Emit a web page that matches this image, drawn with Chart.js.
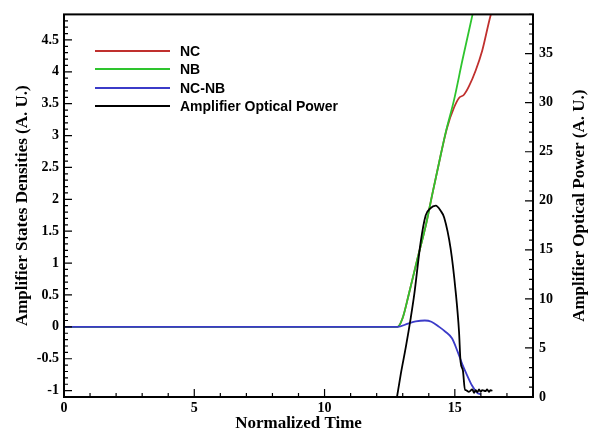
<!DOCTYPE html>
<html>
<head>
<meta charset="utf-8">
<script src="https://cdn.jsdelivr.net/npm/chart.js@4.4.0/dist/chart.umd.min.js"></script>
<style>
  html, body { margin: 0; padding: 0; background: #fff; }
  #wrap { position: relative; width: 597px; height: 436px; }
  #legend {
    position: absolute; left: 95px; top: 42px;
    font: bold 14px "Liberation Sans", Arial, sans-serif; color: #000;
  }
  .row { display: flex; align-items: center; height: 18.3px; }
  .row .swatch { width: 75px; height: 0; border-top: 2px solid; margin-right: 10px; }
</style>
</head>
<body>
<div id="wrap">
  <canvas id="chart" width="597" height="436"></canvas>
  <div id="legend"></div>
</div>
<script>
// normalized time / value pairs
const ncTime = [0, 12.8, 12.99, 13.25, 13.56, 13.88, 14.14, 14.45, 14.7, 14.97, 15.16, 15.35, 15.54, 15.8, 16.05, 16.37, 16.7];
const ncVals = [0, 0, 0.13, 0.54, 1.06, 1.58, 2.09, 2.68, 3.12, 3.44, 3.59, 3.64, 3.77, 4.02, 4.33, 4.88, 5.3];

const nbTime = [0, 12.8, 12.99, 13.25, 13.56, 13.88, 14.14, 14.45, 14.65, 14.97, 15.29, 15.67, 15.9];
const nbVals = [0, 0, 0.13, 0.54, 1.06, 1.58, 2.09, 2.68, 3.05, 3.56, 4.18, 4.88, 5.3];

const diffTime = [0, 12.8, 13.2, 13.5, 13.85, 14.1, 14.4, 14.65, 14.89, 15.1, 15.3, 15.45, 15.66, 15.85, 16.0];
const diffVals = [0, 0, 0.05, 0.085, 0.1, 0.08, 0.0, -0.08, -0.18, -0.38, -0.6, -0.74, -0.92, -1.03, -1.06];

const powTime = [12.78, 12.93, 13.12, 13.31, 13.44, 13.69, 13.88, 14.05, 14.27, 14.45, 14.59, 14.84, 15.03, 15.16, 15.22, 15.31, 15.39,
  15.42, 15.54, 15.67, 15.74, 15.8, 15.86, 15.93, 15.99, 16.05, 16.18, 16.24, 16.31, 16.37, 16.44];
const powVals = [0, 2.4, 5.1, 8.1, 10.4, 15.8, 18.5, 19.2, 19.5, 19.0, 18.3, 15.1, 10.8, 6.7, 3.6, 2.7, 0.7,
  0.7, 0.53, 0.77, 0.43, 0.7, 0.5, 0.77, 0.53, 0.7, 0.6, 0.77, 0.53, 0.7, 0.63];

const xTicks = [0, 5, 10, 15];
const leftTicks = [-1, -0.5, 0, 0.5, 1, 1.5, 2, 2.5, 3, 3.5, 4, 4.5];
const rightTicks = [0, 5, 10, 15, 20, 25, 30, 35];
const rightTitle = "Amplifier Optical Power (A. U.)";

const series = [
  { label: "NC", color: "#c0302e" },
  { label: "NB", color: "#2ec42e" },
  { label: "NC-NB", color: "#3b3bc8" },
  { label: "Amplifier Optical Power", color: "#000000" },
];

const pts = (t, v) => t.map((x, i) => ({ x: x, y: v[i] }));

const tickFont = { family: "Liberation Serif", weight: "bold", size: 14 };
const titleFont = { family: "Liberation Serif", weight: "bold", size: 17 };

// inward tick marks, frame, and the right title (reads bottom to top)
const framePlugin = {
  id: "frame",
  afterDatasetsDraw(chart) {
    const { ctx, chartArea: a, scales } = chart;
    ctx.save();
    ctx.strokeStyle = "#000";
    ctx.lineWidth = 1.2;
    ctx.beginPath();
    for (let i = 0; i <= 18; i++) {
      const px = scales.x.getPixelForValue(i);
      const len = i % 5 === 0 ? 8 : 4;
      ctx.moveTo(px, a.bottom);
      ctx.lineTo(px, a.bottom - len);
    }
    for (let i = -10; i <= 48; i++) {
      const py = scales.y.getPixelForValue(i / 10);
      const len = i % 5 === 0 ? 8 : 4;
      ctx.moveTo(a.left, py);
      ctx.lineTo(a.left + len, py);
    }
    for (let i = 0; i <= 39; i++) {
      const py = scales.y2.getPixelForValue(i);
      const len = i % 5 === 0 ? 8 : 4;
      ctx.moveTo(a.right, py);
      ctx.lineTo(a.right - len, py);
    }
    ctx.stroke();
    ctx.lineWidth = 2;
    ctx.strokeRect(a.left, a.top, a.right - a.left, a.bottom - a.top);

    ctx.translate(580, (a.top + a.bottom) / 2);
    ctx.rotate(-Math.PI / 2);
    ctx.fillStyle = "#000";
    ctx.font = "bold 17px 'Liberation Serif'";
    ctx.textAlign = "center";
    ctx.textBaseline = "middle";
    ctx.fillText(rightTitle, 0, 0);
    ctx.restore();
  },
};

const lineDs = (s, data, axis) => ({
  label: s.label,
  data: data,
  yAxisID: axis,
  borderColor: s.color,
  borderWidth: 1.8,
  pointRadius: 0,
  cubicInterpolationMode: "monotone",
  fill: false,
});

new Chart(document.getElementById("chart"), {
  type: "line",
  data: {
    // first dataset is drawn on top
    datasets: [
      lineDs(series[3], pts(powTime, powVals), "y2"),
      lineDs(series[2], pts(diffTime, diffVals), "y"),
      lineDs(series[1], pts(nbTime, nbVals), "y"),
      lineDs(series[0], pts(ncTime, ncVals), "y"),
    ],
  },
  options: {
    responsive: false,
    animation: false,
    layout: { padding: { top: 10, left: 0, right: 0, bottom: 0 } },
    plugins: { legend: { display: false }, tooltip: { enabled: false } },
    scales: {
      x: {
        type: "linear",
        position: "bottom",
        min: 0,
        max: 18,
        afterBuildTicks: (s) => { s.ticks = xTicks.map((v) => ({ value: v })); },
        afterFit: (s) => { s.height = 39; },
        grid: { display: false, drawTicks: false },
        border: { display: false },
        ticks: { font: tickFont, color: "#000", padding: 3, maxRotation: 0, callback: (v) => String(v) },
        title: { display: true, text: "Normalized Time", font: titleFont, color: "#000", padding: { top: 0, bottom: 2 } },
      },
      y: {
        position: "left",
        min: -1.1,
        max: 4.9,
        afterBuildTicks: (s) => { s.ticks = leftTicks.map((v) => ({ value: v })); },
        afterFit: (s) => { s.width = 64; },
        grid: { display: false, drawTicks: false },
        border: { display: false },
        ticks: { font: tickFont, color: "#000", padding: 5, callback: (v) => String(v) },
        title: { display: true, text: "Amplifier States Densities (A. U.)", font: titleFont, color: "#000", padding: { top: 12, bottom: 0 } },
      },
      y2: {
        position: "right",
        min: 0,
        max: 39,
        afterBuildTicks: (s) => { s.ticks = rightTicks.map((v) => ({ value: v })); },
        afterFit: (s) => { s.width = 64; },
        grid: { display: false, drawTicks: false },
        border: { display: false },
        ticks: { font: tickFont, color: "#000", padding: 6, callback: (v) => String(v) },
        title: { display: false, text: rightTitle },
      },
    },
  },
  plugins: [framePlugin],
});

const legend = document.getElementById("legend");
series.forEach((s) => {
  const row = document.createElement("div");
  row.className = "row";
  const sw = document.createElement("span");
  sw.className = "swatch";
  sw.style.borderTopColor = s.color;
  const txt = document.createElement("span");
  txt.textContent = s.label;
  row.appendChild(sw);
  row.appendChild(txt);
  legend.appendChild(row);
});
</script>
</body>
</html>
